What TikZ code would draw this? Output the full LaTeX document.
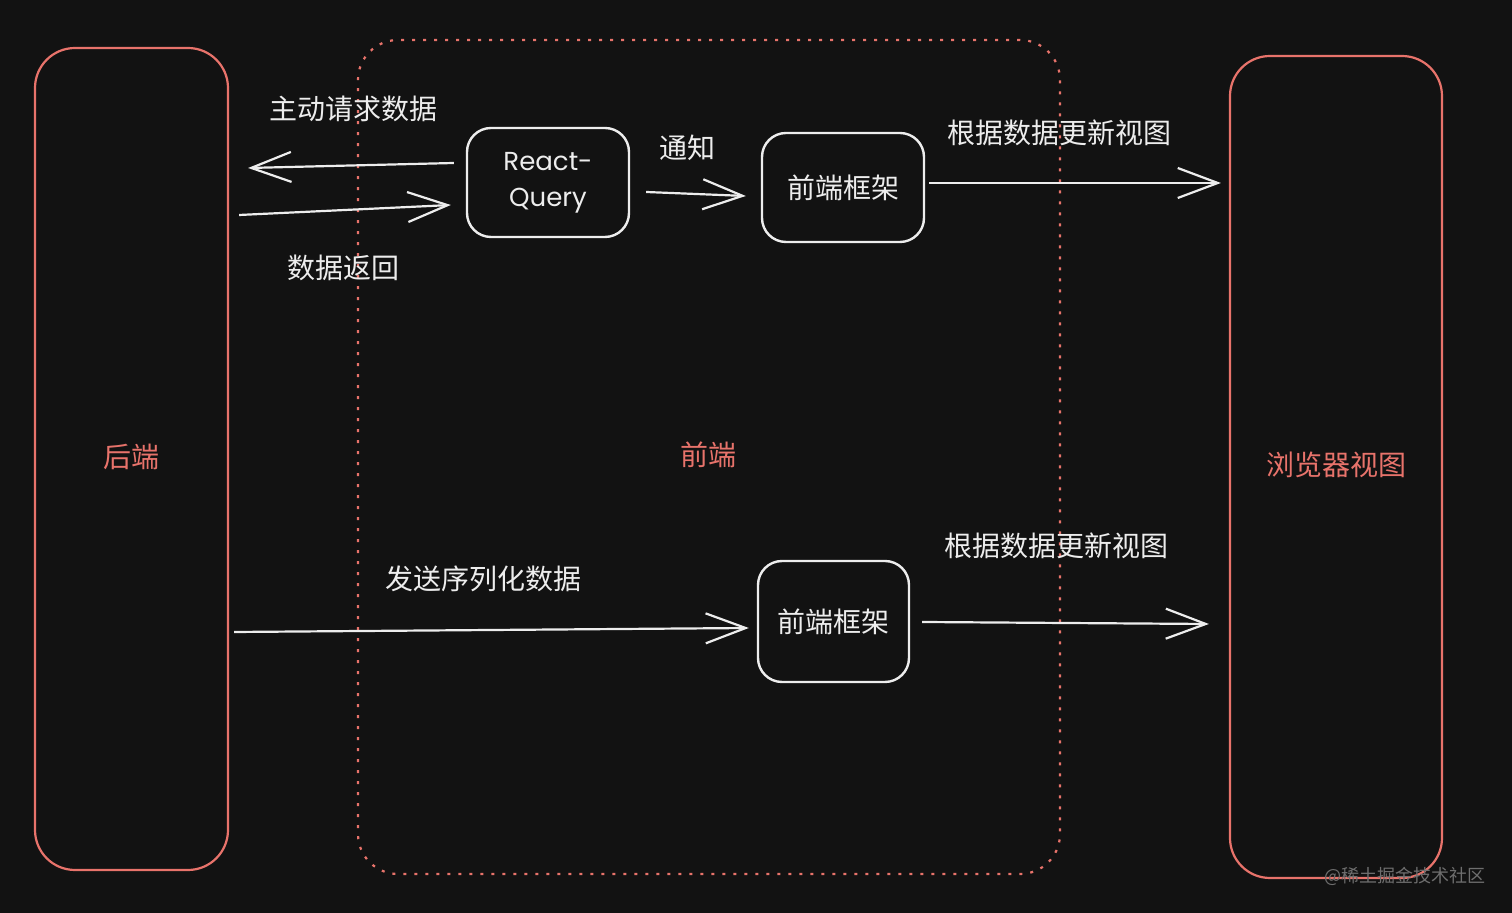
\documentclass[tikz,border=0pt]{standalone}
\usepackage{fontspec}
\setmainfont{Noto Sans CJK SC}
\newfontfamily\rqfont{Poppins}
\usetikzlibrary{arrows.meta}
\definecolor{bgc}{HTML}{121212}
\definecolor{redc}{HTML}{E8736B}
\definecolor{txtc}{HTML}{EDEDED}
\definecolor{wmc}{HTML}{6E6E6E}
\tikzset{
  redbox/.style={draw=redc, line width=1.1pt, rounded corners=20pt, inner sep=0pt},
  whitebox/.style={draw=txtc, line width=1.2pt, rounded corners=12pt, inner sep=0pt, text=txtc, font=\fontsize{14pt}{17pt}\selectfont, align=center},
  frontarea/.style={draw=redc, line width=1.1pt, rounded corners=20pt, dash pattern=on 1.5pt off 4pt, inner sep=0pt},
  redlabel/.style={text=redc, font=\fontsize{14pt}{17pt}\selectfont, inner sep=0pt},
  wlabel/.style={text=txtc, font=\fontsize{14pt}{17pt}\selectfont, inner sep=0pt},
  arr/.style={draw=txtc, line width=1.1pt, -{Straight Barb[length=20pt,width=15pt,line width=1.1pt]}},
}
\begin{document}
\begin{tikzpicture}[x=0.5pt,y=-0.5pt]
\fill[bgc] (0,0) rectangle (1512,913);
\useasboundingbox (0,0) rectangle (1512,913);

% big regions
\node[frontarea, minimum width=351pt, minimum height=417pt] (front) at (709,457) {};
\node[redbox, minimum width=96.5pt, minimum height=411pt] (back) at (131.5,459) {};
\node[redbox, minimum width=106pt, minimum height=411pt] (view) at (1336,467) {};
\node[redlabel] (backlbl) at (131,457) {后端};
\node[redlabel] (frontlbl) at (708,455) {前端};
\node[redlabel] (viewlbl) at (1336,465) {浏览器视图};

% white boxes
\node[whitebox, minimum width=81pt, minimum height=54.5pt, font=\rqfont\fontsize{13pt}{18pt}\selectfont] (rq) at (548,182.5) {React-\\Query};
\node[whitebox, minimum width=81pt, minimum height=54.5pt] (fe1) at (843,187.5) {前端框架};
\node[whitebox, minimum width=75.5pt, minimum height=60.5pt] (fe2) at (833.5,621.5) {前端框架};

% connectors
\draw[arr] ([shift={(-12,-19.5)}]rq.west) -- ([shift={(19,-291)}]back.east);
\draw[arr] ([shift={(10,-244)}]back.east) -- ([shift={(-15,22.5)}]rq.west);
\draw[arr] ([shift={(16,9.5)}]rq.east) -- ([shift={(-15,8.5)}]fe1.west);
\draw[arr] ([shift={(4,-4.5)}]fe1.east) -- ([shift={(-8,-284)}]view.west);
\draw[arr] ([shift={(5,173)}]back.east) -- ([shift={(-8,6.5)}]fe2.west);
\draw[arr] ([shift={(12,0.5)}]fe2.east) -- ([shift={(-20,157)}]view.west);

% labels
\node[wlabel] (l1) at (353,109) {主动请求数据};
\node[wlabel] (l2) at (343,268) {数据返回};
\node[wlabel] (l3) at (687,148) {通知};
\node[wlabel] (l4) at (1059,133) {根据数据更新视图};
\node[wlabel] (l5) at (483,579) {发送序列化数据};
\node[wlabel] (l6) at (1056,546) {根据数据更新视图};

% watermark
\node[text=wmc, font=\fontsize{9pt}{11pt}\selectfont, inner sep=0pt] (wm) at (1405,876) {@稀土掘金技术社区};
\end{tikzpicture}
\end{document}
